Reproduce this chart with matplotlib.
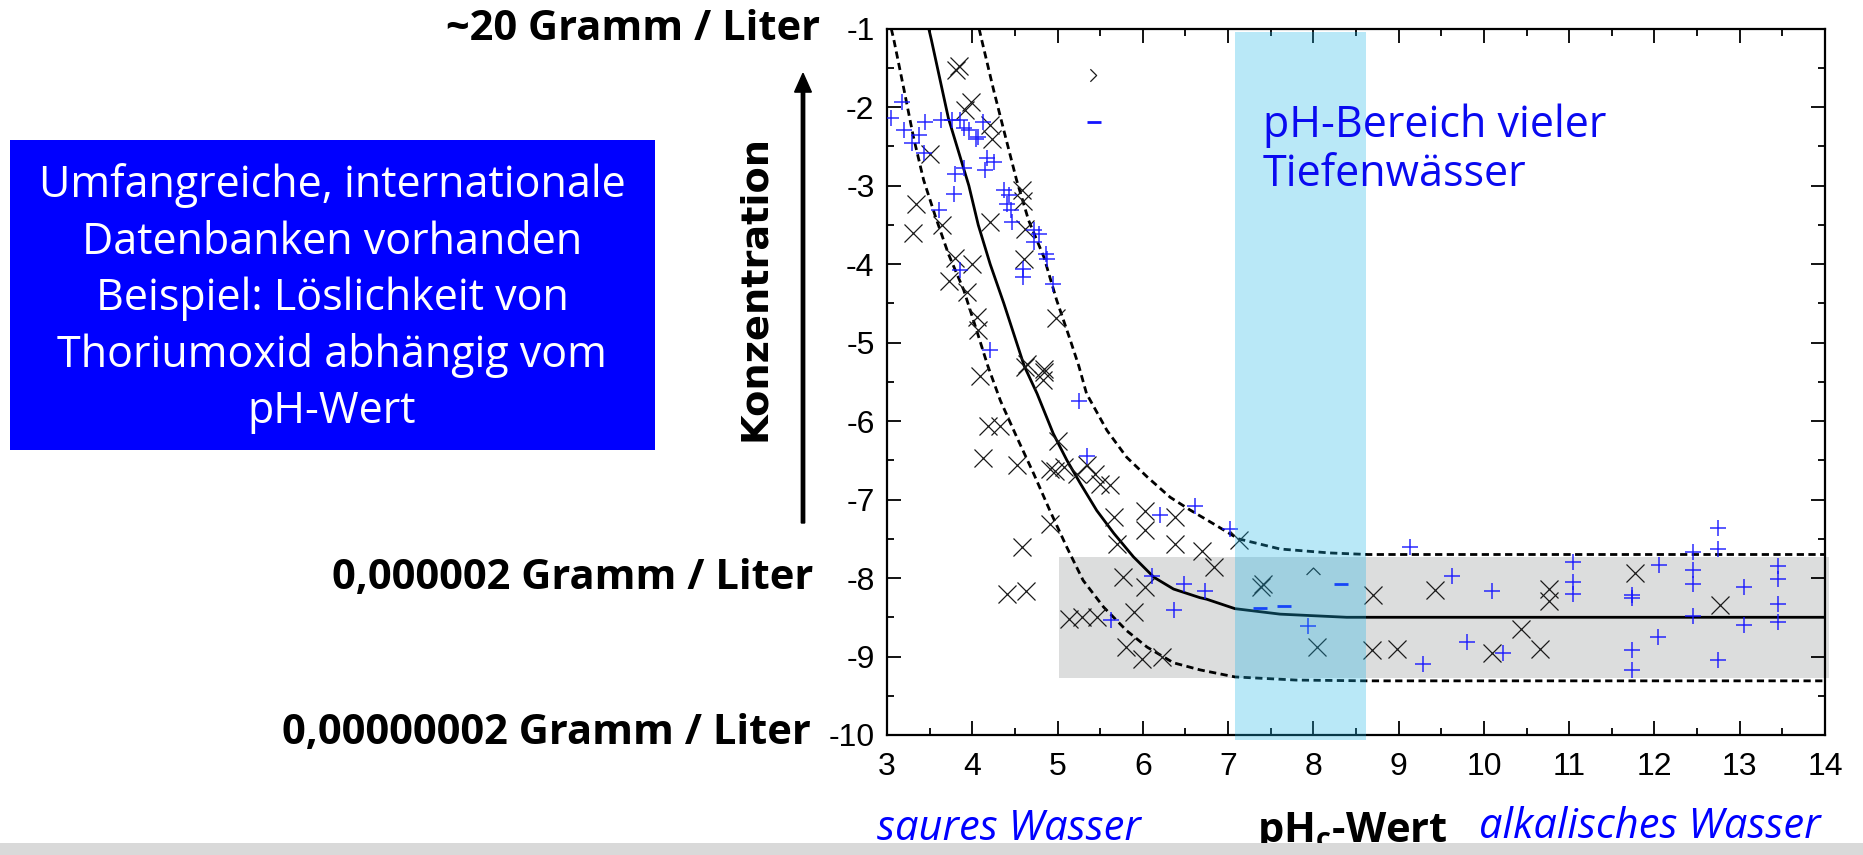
import matplotlib
matplotlib.use("Agg")
import matplotlib.pyplot as plt
from matplotlib.patches import Rectangle

plt.rcParams['axes.unicode_minus'] = False
plt.rcParams['mathtext.fontset'] = 'custom'
plt.rcParams['mathtext.bf'] = 'Open Sans:bold'
plt.rcParams['mathtext.rm'] = 'Open Sans'

# ---------------- data ----------------
x_ticks = [3, 4, 5, 6, 7, 8, 9, 10, 11, 12, 13, 14]
y_ticks = [-10, -9, -8, -7, -6, -5, -4, -3, -2, -1]

# solubility curve (solid) and upper/lower bounds (dashed)
curve_ph = [3.49, 3.52, 3.72, 3.96, 4.07, 4.21, 4.37, 4.52, 4.61, 4.76, 4.95, 5.11, 5.27, 5.46,
            5.66, 5.89, 6.13, 6.36, 6.67, 6.75, 7.08, 7.61, 8.39, 14.0]
curve_log = [-1.0, -1.14, -2.14, -3.0, -3.5, -4.0, -4.5, -5.0, -5.3, -5.65, -6.16, -6.5, -6.8, -7.14,
             -7.43, -7.73, -7.99, -8.14, -8.25, -8.27, -8.39, -8.46, -8.5, -8.5]
upper_ph = [4.08, 4.11, 4.25, 4.39, 4.52, 4.66, 4.84, 4.99, 5.15, 5.25, 5.34, 5.58, 5.81, 6.05,
            6.32, 6.55, 6.83, 7.12, 7.61, 8.19, 8.64, 14.0]
upper_log = [-1.0, -1.14, -1.78, -2.38, -2.93, -3.44, -3.91, -4.46, -4.97, -5.3, -5.65, -6.12, -6.46,
             -6.71, -6.97, -7.13, -7.31, -7.5, -7.63, -7.68, -7.7, -7.7]
lower_ph = [3.05, 3.08, 3.20, 3.31, 3.43, 3.57, 3.72, 3.90, 4.05, 4.18, 4.33, 4.52, 4.72, 4.91,
            5.11, 5.30, 5.54, 5.81, 6.05, 6.36, 6.67, 7.08, 7.80, 8.64, 14.0]
lower_log = [-1.0, -1.14, -1.78, -2.38, -2.93, -3.40, -3.87, -4.33, -4.84, -5.29, -5.74, -6.20, -6.67,
             -7.14, -7.61, -8.03, -8.37, -8.67, -8.88, -9.08, -9.17, -9.26, -9.30, -9.31, -9.31]

# black "x" measurements
x_ph = [3.81, 3.85, 3.99, 3.91, 4.21, 4.23, 3.50, 3.34, 3.30, 3.64, 4.21, 4.58, 4.60, 4.62,
        4.61, 3.80, 4.00, 3.73, 3.94, 4.05, 4.07, 4.98, 4.64, 4.84,
        4.09, 4.62, 4.84, 4.83, 4.19, 4.32, 4.13, 4.52, 5.01, 4.91, 4.97, 5.07, 5.23, 5.34,
        5.44, 5.50, 5.62, 5.66, 4.91, 4.58, 6.03, 6.03, 6.38, 6.38, 5.70, 5.77, 6.03, 4.41,
        4.63, 5.13, 5.29, 5.46, 5.90, 5.80, 5.99, 6.22, 6.69, 6.83,
        7.13, 7.41, 7.39, 8.04, 8.70, 8.69, 8.98, 9.43, 10.09,
        10.44, 10.66, 10.76, 10.76, 11.77, 12.77]
x_log = [-1.52, -1.48, -1.93, -2.04, -2.23, -2.40, -2.60, -3.23, -3.60, -3.50, -3.46, -3.06,
         -3.19, -3.55, -3.93, -3.92, -4.00, -4.21, -4.35, -4.67, -4.84, -4.69, -5.27, -5.33,
         -5.42, -5.31, -5.37, -5.48, -6.06, -6.06, -6.47, -6.56, -6.25, -6.61, -6.63, -6.59,
         -6.67, -6.56, -6.67, -6.80, -6.81, -7.22, -7.31, -7.61, -7.14, -7.39, -7.22, -7.56,
         -7.56, -7.99, -8.12, -8.20, -8.16, -8.52, -8.50, -8.50, -8.43, -8.88, -9.03, -9.01,
         -7.65, -7.86,
         -7.51, -8.07, -8.12, -8.88, -8.22, -8.92, -8.90, -8.15, -8.95,
         -8.65, -8.90, -8.14, -8.29, -7.94, -8.34]

# blue "+" measurements
p_ph = [3.18, 3.05, 3.20, 3.29, 3.37, 3.43, 3.45, 3.63, 3.76, 3.86, 3.90, 3.96, 4.04, 4.07,
        4.13, 4.17, 4.25, 4.15, 3.90, 3.80, 3.78, 3.61, 4.37, 4.43, 4.41, 4.45, 4.47, 4.72,
        4.78, 4.72, 4.86, 4.88, 4.60, 4.60, 4.95, 3.86, 4.21,
        5.25, 5.34, 6.20, 6.61, 6.11, 6.48, 6.36, 5.63,
        7.02, 6.73, 7.94, 9.13, 9.63, 10.10, 9.80, 9.28, 10.22,
        11.05, 11.05, 11.05, 11.74, 11.74, 11.74, 11.74, 12.05, 12.04, 12.45, 12.45, 12.45,
        12.45, 12.74, 12.74, 12.74, 13.05, 13.05, 13.45, 13.45, 13.45, 13.45]
p_log = [-1.93, -2.14, -2.29, -2.46, -2.36, -2.59, -2.19, -2.16, -2.16, -2.16, -2.27, -2.29,
         -2.40, -2.38, -2.19, -2.65, -2.70, -2.80, -2.78, -2.85, -3.10, -3.31, -3.06, -3.12,
         -3.23, -3.31, -3.46, -3.57, -3.61, -3.72, -3.87, -3.93, -4.06, -4.16, -4.25, -4.08,
         -5.10,
         -5.74, -6.44, -7.20, -7.08, -7.98, -8.07, -8.41, -8.53,
         -7.37, -8.16, -8.61, -7.61, -7.97, -8.17, -8.82, -9.10, -8.96,
         -7.80, -8.05, -8.20, -8.22, -8.25, -8.92, -9.17, -7.84, -8.75, -7.67, -7.90, -8.07,
         -8.49, -7.36, -7.63, -9.05, -8.12, -8.60, -7.85, -8.01, -8.33, -8.56]

# clipped marker fragments
dash_ph = [5.43, 7.37, 7.65, 8.32]
dash_log = [-2.19, -8.38, -8.36, -8.08]
gt_ph = [5.42]
gt_log = [-1.59]
caret_ph = [8.0]
caret_log = [-7.91]

# shaded regions
deep_ph = [7.08, 8.62]          # pH range of many deep waters
band_ph = [5.02, 14.05]         # grey band
band_log = [-9.28, -7.73]

# --------------------------------------------------------------
W, H = 1863, 855
fig = plt.figure(figsize=(W / 100, H / 100), dpi=100)

def fx(px):
    return px / W

def fy(py):
    return 1 - py / H

ax = fig.add_axes([fx(887), fy(735), fx(1825) - fx(887), fy(28.7) - fy(735)])
ax.set_xlim(3, 14)
ax.set_ylim(-10, -1)

ax.add_patch(Rectangle((band_ph[0], band_log[0]), band_ph[1] - band_ph[0],
                       band_log[1] - band_log[0], facecolor='#dcdddd', edgecolor='none',
                       zorder=1, clip_on=False))

ax.plot(curve_ph, curve_log, color='black', lw=2.0, zorder=3)
ax.plot(upper_ph, upper_log, color='black', lw=2.0, ls=(0, (2.6, 1.6)), zorder=3)
ax.plot(lower_ph, lower_log, color='black', lw=2.0, ls=(0, (2.6, 1.6)), zorder=3)

ax.plot(x_ph, x_log, ls='none', marker='x', ms=12.5, mew=0.9, color='#1a1a1a', zorder=4)
ax.plot(p_ph, p_log, ls='none', marker='+', ms=12, mew=1.1, color='#1414ff', alpha=0.9, zorder=4)
ax.plot(dash_ph, dash_log, ls='none', marker='_', ms=10, mew=2.0, color='#1414ff', zorder=4)
ax.plot(gt_ph, gt_log, ls='none', marker=[(-0.5, 1), (0.5, 0), (-0.5, -1)], ms=9,
        mew=0.9, mfc='none', color='#1a1a1a', zorder=4)
ax.plot(caret_ph, caret_log, ls='none', marker=[(-1, -0.5), (0, 0.5), (1, -0.5)], ms=10,
        mew=0.9, mfc='none', color='#1a1a1a', zorder=4)

ax.add_patch(Rectangle((deep_ph[0], -10.07), deep_ph[1] - deep_ph[0], 9.03,
                       facecolor=(29 / 255, 181 / 255, 232 / 255), alpha=0.31,
                       edgecolor='none', zorder=5, clip_on=False))

ax.text(7.41, -2.55, 'pH-Bereich vieler\nTiefenwässer', color='#0a0af0', fontsize=31,
        family='Open Sans', va='center', ha='left', linespacing=1.12, zorder=6)

ax.set_xticks(x_ticks)
ax.set_yticks(y_ticks)
ax.set_xticks([v + 0.5 for v in x_ticks[:-1]], minor=True)
ax.set_yticks([v + 0.5 for v in y_ticks[:-1]], minor=True)
ax.tick_params(which='both', direction='in', top=True, right=True, width=1.3,
               labelsize=23, colors='black')
ax.tick_params(which='major', length=10, pad=9)
ax.tick_params(axis='x', which='major', pad=12)
ax.tick_params(which='minor', length=5)
for lab in ax.get_xticklabels() + ax.get_yticklabels():
    lab.set_family('Liberation Sans')
for s in ax.spines.values():
    s.set_linewidth(1.6)

# left side labels
lab_font = dict(family='Open Sans', fontweight='bold', fontsize=30, color='black',
                ha='right', va='center')
fig.text(fx(820), fy(30), '~20 Gramm / Liter', **lab_font)
fig.text(fx(813), fy(578), '0,000002 Gramm / Liter', **lab_font)
fig.text(fx(811), fy(733), '0,00000002 Gramm / Liter', **lab_font)

fig.text(fx(755), fy(288), 'Konzentration', family='DejaVu Sans', fontweight='bold',
         fontsize=27.5, rotation=90, ha='center', va='center')
fig.add_artist(matplotlib.patches.FancyArrow(
    fx(803), fy(523), 0, fy(75) - fy(523) - 0.02, width=0.0018, head_width=0.009,
    head_length=0.022, length_includes_head=False, color='black', transform=fig.transFigure))

# blue info box
fig.add_artist(Rectangle((fx(9.5), fy(450)), fx(655) - fx(9.5), fy(140) - fy(450),
                         transform=fig.transFigure, facecolor='#0000ff', edgecolor='none'))
box_lines = ['Umfangreiche, internationale', 'Datenbanken vorhanden',
             'Beispiel: Löslichkeit von', 'Thoriumoxid abhängig vom', 'pH-Wert']
for i, line in enumerate(box_lines):
    fig.text(fx(332), fy(186 + i * 56.5), line, color='white', family='Open Sans',
             fontsize=31, ha='center', va='center')

# bottom labels
fig.text(fx(877), fy(829), 'saures Wasser', color='#0000ff', family='Open Sans',
         style='italic', fontsize=30, ha='left', va='center')
fig.text(fx(1479), fy(827), 'alkalisches Wasser', color='#0000ff', family='Open Sans',
         style='italic', fontsize=30, ha='left', va='center')
fig.text(fx(1257), fy(832), r'pH$_\mathbf{c}$-Wert', color='black', family='Open Sans',
         fontweight='bold', fontsize=30, ha='left', va='center')

strip = Rectangle((0, 0), 1, 12 / H, transform=fig.transFigure, facecolor='#d9d9d9',
                  edgecolor='none', zorder=10)
fig.add_artist(strip)

fig.savefig('out.png', dpi=100)
